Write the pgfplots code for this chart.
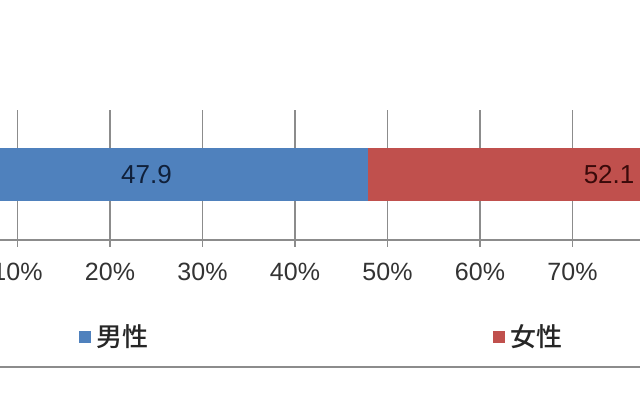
\documentclass[border=0pt]{standalone}
\usepackage{pgfplots}
\pgfplotsset{compat=1.18}
\usepackage{fontspec}
\setmainfont{Liberation Sans}
\newfontfamily\cjk{Noto Sans CJK JP}[BoldFont={Noto Sans CJK JP Medium}]
\definecolor{mblue}{HTML}{4F81BD}
\definecolor{mred}{HTML}{C0504D}
\definecolor{gridgray}{HTML}{8C8C8C}
\begin{document}
\begin{tikzpicture}
\useasboundingbox (0,0) rectangle (320pt,200pt);
\clip (0,0) rectangle (320pt,200pt);
\fill[white] (0,0) rectangle (320pt,200pt);
\begin{axis}[
  scale only axis, width=462.5pt, height=65pt,
  anchor=south west, at={(-37.5pt,80pt)},
  xbar stacked, xmin=0, xmax=100, ymin=0, ymax=2,
  bar width=26.5pt,
  axis y line=none, axis x line*=bottom,
  x axis line style={gridgray, line width=0.8pt, -},
  xtick={0,10,...,100}, ytick=\empty,
  xticklabel={\pgfmathprintnumber{\tick}\%},
  xmajorgrids, grid style={gridgray, line width=0.8pt},
  tick align=outside, major tick length=3.5pt,
  major tick style={gridgray, line width=0.8pt},
  xticklabel style={font=\fontsize{12.5}{14}\selectfont, text=black!80, yshift=-4.5pt},
  /pgf/number format/assume math mode=true,
  legend style={font=\cjk\bfseries\fontsize{13}{15}\selectfont, draw=none, fill=none,
    inner sep=0pt, legend columns=2, at={(0.1665,-0.746)}, anchor=west,
    /tikz/every even column/.append style={column sep=170pt},
    nodes={inner sep=2.5pt}, text=black!85},
]
\addplot+[fill=mblue, draw=none,
  legend image code/.code={\fill[mblue] (0pt,-3pt) rectangle (6pt,3pt);},
  nodes near coords,
  every node near coord/.append style={anchor=center,
    font=\fontsize{13}{15}\selectfont, text={rgb,255:red,16;green,32;blue,58}}]
  coordinates {(47.9,1)};
\addplot+[fill=mred, draw=none,
  legend image code/.code={\fill[mred] (0pt,-3pt) rectangle (6pt,3pt);},
  nodes near coords,
  every node near coord/.append style={anchor=center,
    font=\fontsize{13}{15}\selectfont, text={rgb,255:red,58;green,10;blue,10}}]
  coordinates {(52.1,1)};
\legend{男性,女性}
\end{axis}
\draw[color={rgb,255:red,140;green,140;blue,140}, line width=1pt] (0,16.5pt) -- (320pt,16.5pt);
\end{tikzpicture}
\end{document}
